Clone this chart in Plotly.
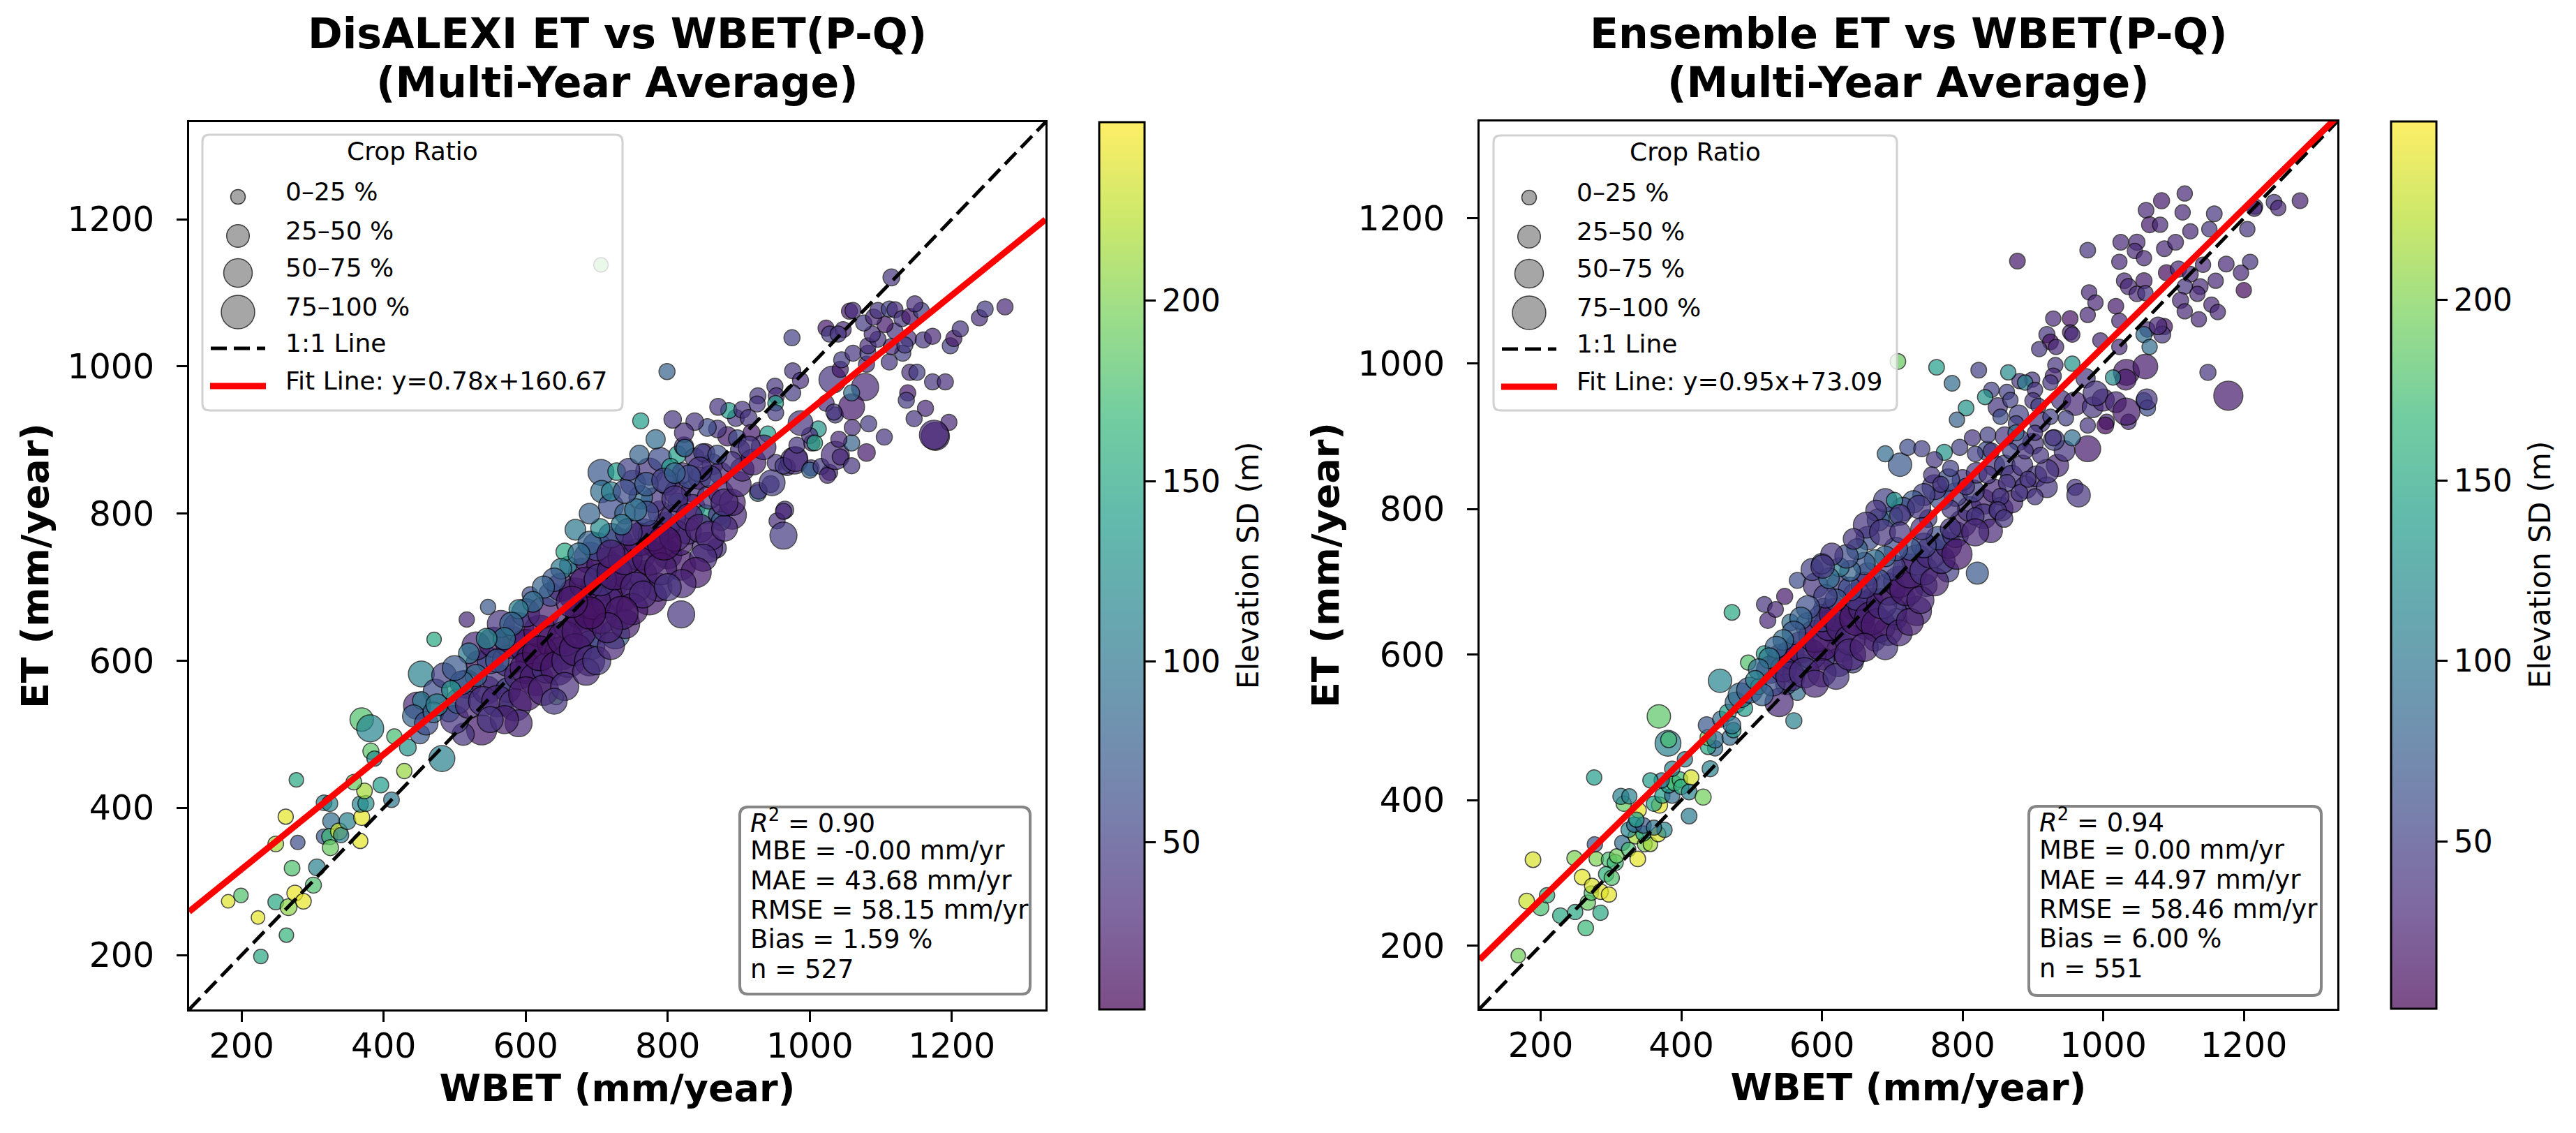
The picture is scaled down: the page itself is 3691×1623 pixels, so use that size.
import math
import plotly.graph_objects as go
import plotly.colors as pc

# ---------------------------------------------------------------- data
# DisALEXI panel: WBET (x), ET (y), elevation SD (colour), crop ratio % (size)
dis_wbet = [
    181, 199, 223, 248, 266, 275, 287, 263, 227, 301,
    306, 271, 248, 279, 262, 277, 316, 324, 326, 316,
    324, 325, 337, 340, 349, 369, 367, 367, 375, 373,
    396, 411, 358, 429, 382, 387, 369, 381, 415, 434,
    482, 453, 473, 447, 453, 471, 517, 547, 606, 643,
    572, 538, 512, 451, 492, 485, 517, 534, 442, 460,
    470, 500, 505, 520, 545, 560, 550, 530, 555, 575,
    580, 565, 590, 600, 610, 620, 600, 625, 640, 650,
    660, 635, 650, 670, 680, 690, 691, 726, 700, 680,
    660, 655, 670, 690, 710, 720, 735, 745, 730, 765,
    774, 786, 760, 786, 800, 818, 818, 829, 798, 767,
    789, 814, 780, 762, 751, 774, 789, 800, 814, 835,
    835, 807, 853, 872, 891, 875, 869, 856, 819, 706,
    728, 707, 720, 740, 745, 760, 783, 814, 823, 804,
    821, 845, 838, 853, 863, 874, 858, 875, 891, 849,
    884, 898, 902, 870, 856, 838, 823, 824, 807, 799,
    762, 896, 886, 871, 905, 914, 918, 927, 926, 927,
    941, 945, 928, 947, 952, 968, 978, 963, 980, 982,
    1002, 1028, 1000, 1016, 1025, 1003, 1012, 1000, 987, 1007,
    1036, 1036, 1043, 1059, 1080, 1059, 1060, 1083, 1105, 1041,
    1177, 965, 954, 963, 963, 951, 953, 952, 952, 976,
    987, 976, 1032, 1078, 1059, 1059, 1043, 1045, 1023, 1034,
    1061, 1080, 1082, 1082, 1112, 1131, 1115, 1096, 1088, 1076,
    1120, 1106, 1139, 1134, 1090, 1096, 1112, 1120, 1130, 1141,
    1157, 1148, 1160, 1173, 1198, 1203, 1212, 1239, 1247, 1275,
    1115, 1056, 1061, 1023, 1028, 1047, 1040, 975, 1141, 1151,
    1173, 1191, 1138, 1136, 1163, 1147, 1196, 1175, 706,
    560, 575, 590, 600, 615, 630, 620, 645, 660, 655,
    670, 675, 690, 705, 715, 695, 685, 705, 725, 740,
    755, 760, 775, 790, 780, 810, 795, 700, 720, 690,
    675, 650, 640, 625, 610, 590, 580, 570, 545, 530,
    510, 520, 495, 475, 500, 540, 560, 585, 600, 625,
    590, 570, 550, 655, 640, 685, 700, 720, 740, 750,
    765, 735, 715, 690, 665, 720, 745, 770, 755, 735,
    705, 690, 720, 740, 770, 795, 810, 830, 845, 860,
    850, 840, 820, 800, 880, 880, 900, 905, 920, 935,
    915, 890, 870, 860, 845, 830, 810,
]
dis_et = [
    273, 281, 251, 272, 265, 284, 273, 227, 198, 295,
    319, 318, 351, 353, 388, 438, 407, 406, 382, 361,
    361, 346, 368, 363, 382, 387, 355, 405, 406, 423,
    431, 411, 435, 450, 477, 467, 520, 508, 497, 482,
    467, 582, 558, 539, 546, 629, 656, 673, 690, 550,
    535, 506, 500, 500, 531, 580, 568, 596, 525, 515,
    530, 520, 545, 540, 560, 575, 600, 620, 625, 600,
    625, 650, 645, 620, 600, 640, 665, 665, 625, 610,
    650, 690, 700, 690, 665, 640, 621, 636, 700, 720,
    730, 748, 778, 740, 730, 705, 690, 720, 760, 717,
    686, 700, 745, 760, 744, 730, 760, 776, 783, 777,
    801, 815, 818, 822, 842, 857, 874, 842, 828, 831,
    809, 794, 799, 798, 798, 790, 753, 754, 663, 856,
    857, 830, 810, 800, 860, 880, 901, 880, 891, 863,
    855, 848, 876, 882, 867, 855, 822, 828, 815, 883,
    905, 902, 887, 915, 917, 925, 910, 889, 928, 993,
    926, 930, 940, 945, 941, 930, 910, 960, 949, 828,
    908, 840, 831, 842, 869, 863, 872, 865, 874, 893,
    862, 856, 859, 864, 852, 896, 915, 906, 923, 896,
    934, 879, 877, 865, 883, 896, 917, 922, 904, 901,
    905, 805, 790, 770, 803, 973, 960, 950, 937, 994,
    981, 964, 982, 972, 945, 964, 996, 1009, 950, 938,
    1018, 1003, 1018, 1028, 1006, 1018, 1027, 1037, 1044, 1059,
    1048, 1057, 1038, 1029, 1067, 1076, 1078, 1077, 1065, 1068,
    1076, 1085, 1036, 1041, 1028, 1038, 1051, 1066, 1078, 1081,
    1121, 1075, 1076, 1052, 1044, 1050, 1044, 1039, 992, 992,
    979, 979, 964, 954, 943, 929, 924, 907, 1138,
    600, 560, 580, 590, 575, 590, 610, 590, 600, 630,
    615, 640, 600, 660, 680, 680, 705, 710, 720, 740,
    700, 765, 740, 725, 770, 770, 760, 755, 770, 760,
    745, 725, 710, 700, 680, 670, 650, 630, 630, 580,
    570, 610, 560, 540, 590, 545, 545, 540, 555, 560,
    515, 520, 520, 565, 545, 585, 600, 620, 650, 670,
    690, 665, 645, 665, 680, 745, 775, 800, 805, 785,
    780, 800, 830, 830, 840, 845, 820, 795, 780, 770,
    740, 720, 705, 700, 780, 815, 840, 860, 870, 890,
    890, 870, 880, 850, 860, 850, 855,
]
dis_elev = [
    238, 180, 240, 150, 205, 243, 240, 165, 150, 178,
    110, 178, 215, 60, 240, 150, 115, 115, 90, 70,
    170, 190, 228, 110, 110, 240, 240, 115, 125, 215,
    140, 100, 190, 210, 185, 120, 180, 115, 175, 130,
    110, 110, 60, 30, 110, 150, 30, 70, 60, 190,
    180, 20, 40, 70, 100, 50, 30, 20, 80, 60,
    90, 40, 70, 30, 20, 40, 60, 30, 25, 35,
    20, 40, 30, 25, 20, 15, 40, 25, 20, 15,
    25, 60, 30, 20, 15, 30, 60, 80, 20, 40,
    110, 150, 100, 30, 20, 25, 15, 20, 30, 25,
    20, 30, 40, 30, 35, 20, 25, 30, 40, 50,
    30, 140, 40, 90, 60, 40, 60, 50, 30, 40,
    30, 40, 140, 40, 30, 80, 40, 30, 40, 70,
    140, 90, 60, 80, 50, 80, 90, 140, 40, 140,
    40, 30, 40, 30, 40, 30, 40, 30, 25, 50,
    20, 60, 40, 40, 60, 40, 35, 90, 40, 80,
    140, 40, 140, 40, 40, 40, 20, 40, 40, 90,
    140, 40, 35, 45, 40, 30, 30, 45, 35, 40,
    40, 35, 80, 45, 30, 40, 130, 35, 40, 150,
    45, 35, 30, 40, 20, 80, 35, 45, 40, 30,
    30, 40, 35, 45, 30, 40, 35, 140, 45, 40,
    35, 45, 40, 30, 20, 90, 20, 45, 35, 40,
    40, 30, 45, 35, 40, 50, 30, 40, 35, 45,
    40, 20, 35, 45, 30, 40, 50, 35, 40, 20,
    45, 35, 40, 30, 50, 20, 40, 35, 45, 30,
    40, 20, 35, 20, 45, 30, 40, 50, 35, 45,
    40, 35, 20, 45, 30, 40, 30, 30, 190,
    70, 50, 30, 20, 25, 40, 15, 20, 30, 20,
    25, 20, 30, 20, 30, 25, 20, 40, 20, 25,
    30, 20, 20, 25, 35, 30, 15, 60, 70, 80,
    90, 100, 70, 80, 90, 110, 80, 100, 120, 90,
    80, 100, 130, 110, 70, 40, 30, 35, 20, 25,
    30, 25, 40, 35, 40, 30, 40, 30, 25, 20,
    30, 20, 25, 15, 20, 25, 40, 60, 90, 100,
    120, 80, 110, 60, 70, 50, 40, 30, 25, 30,
    35, 20, 30, 40, 30, 30, 30, 30, 25, 30,
    40, 40, 60, 50, 40, 60, 80,
]
dis_crop = [
    10, 12, 10, 15, 18, 16, 15, 12, 12, 16,
    18, 15, 15, 12, 14, 12, 15, 16, 18, 14,
    16, 16, 18, 14, 18, 16, 14, 16, 16, 15,
    15, 15, 15, 14, 16, 14, 40, 55, 14, 18,
    50, 50, 45, 55, 20, 12, 14, 14, 15, 12,
    14, 70, 35, 25, 30, 45, 60, 50, 35, 40,
    30, 60, 45, 55, 60, 70, 50, 60, 70, 75,
    80, 55, 70, 85, 90, 80, 60, 75, 90, 85,
    70, 40, 60, 85, 90, 80, 65, 65, 80, 60,
    20, 20, 30, 75, 90, 85, 95, 90, 70, 60,
    95, 60, 80, 75, 60, 70, 45, 50, 55, 40,
    40, 25, 45, 40, 45, 55, 40, 45, 50, 35,
    45, 50, 25, 30, 60, 25, 25, 70, 55, 50,
    20, 35, 45, 30, 35, 25, 25, 20, 25, 20,
    30, 35, 25, 25, 30, 35, 40, 45, 50, 20,
    25, 20, 25, 20, 20, 20, 25, 20, 20, 16,
    16, 18, 16, 18, 18, 18, 18, 16, 16, 18,
    16, 18, 18, 50, 18, 18, 55, 18, 45, 16,
    16, 16, 16, 16, 16, 16, 16, 16, 45, 15,
    16, 60, 16, 16, 20, 16, 16, 16, 16, 16,
    60, 20, 16, 55, 16, 16, 16, 15, 16, 16,
    16, 16, 55, 55, 50, 16, 16, 16, 16, 16,
    16, 16, 16, 16, 16, 16, 16, 16, 16, 16,
    16, 16, 16, 16, 16, 16, 16, 16, 16, 16,
    16, 16, 16, 16, 16, 16, 16, 16, 16, 16,
    18, 16, 16, 16, 16, 16, 16, 16, 16, 16,
    16, 16, 16, 16, 16, 16, 16, 65, 12,
    40, 45, 60, 75, 85, 70, 95, 90, 85, 95,
    80, 90, 70, 90, 75, 95, 85, 80, 95, 90,
    70, 85, 95, 80, 70, 75, 90, 60, 45, 40,
    35, 30, 40, 35, 30, 25, 40, 35, 30, 35,
    40, 30, 25, 35, 45, 65, 75, 80, 90, 70,
    55, 60, 50, 60, 50, 55, 60, 55, 65, 75,
    55, 85, 70, 80, 75, 60, 55, 45, 35, 30,
    25, 30, 25, 40, 40, 45, 50, 55, 60, 65,
    55, 70, 60, 55, 50, 55, 45, 40, 50, 45,
    35, 30, 25, 35, 45, 40, 30,
]

# Ensemble panel
ens_wbet = [
    168, 189, 180, 200, 209, 228, 249, 264, 285, 248,
    259, 267, 272, 273, 285, 297, 277, 279, 297, 306,
    308, 293, 301, 316, 325, 338, 335, 348, 356, 346,
    325, 333, 346, 367, 376, 361, 339, 336, 318, 314,
    326, 276, 369, 361, 373, 387, 382, 390, 398, 400,
    414, 411, 431, 411, 372, 356, 387, 405, 441, 381,
    382, 368, 448, 438, 438, 448, 469, 474, 436, 456,
    466, 472, 455, 472, 560, 565, 477, 490, 484, 497,
    510, 495, 518, 518, 523, 547, 534, 555, 565, 560,
    573, 542, 526, 549, 539, 581, 602, 615, 628, 644,
    623, 602, 662, 675, 694, 706, 735, 748, 779, 821,
    716, 670, 644, 623, 591, 586, 665,
    530, 545, 555, 570, 585, 590, 600, 610, 600, 620,
    630, 640, 650, 660, 650, 670, 680, 685, 695, 700,
    710, 720, 725, 735, 745, 755, 700, 680, 660, 640,
    620, 605, 580, 570, 560, 545, 535, 525, 510, 505,
    515, 555, 575, 600, 590, 620, 640, 660, 690, 710,
    725, 740, 760, 770, 780, 765, 745, 725, 705, 690,
    675, 660, 640, 625, 610, 600, 790, 800, 810, 790,
    770, 760, 745, 730, 715, 700, 680, 665, 650, 635,
    830, 845, 830, 840, 855, 870, 815, 800, 780, 820,
    845, 860, 870, 885, 890, 905, 920, 935, 945, 930,
    900, 880, 860, 835, 850, 880, 910, 940, 960, 985,
    1000, 975,
    1116, 1083, 1061, 1113, 1158, 1066, 1081, 1124, 1151, 1205,
    1243, 1249, 1216, 1280, 1025, 1048, 978, 878, 1045, 1023,
    1058, 1087, 1103, 1090, 1107, 1124, 1142, 1175, 1209, 1196,
    1160, 1138, 1116, 1200, 1030, 1058, 1036, 1048, 980, 989,
    1018, 1060, 1110, 1134, 1154, 1163, 1116, 1136, 1087, 1063,
    1023, 978, 953, 929, 953, 920, 925, 933, 909, 956,
    996, 1023, 1058, 1066, 1084, 1078, 932, 956, 929, 925,
    899, 881, 865, 889, 903, 900, 908, 863, 841, 823,
    785, 763, 708, 805, 832, 868, 792, 854, 876, 925,
    947, 978, 1005, 1036, 1058, 1063, 1033, 1060, 1032, 1014,
    989, 1018, 1033, 1062, 1149, 1178, 1003, 978, 956, 929,
    903, 876, 868, 889, 920, 893, 911, 841, 818, 814,
    836, 774, 796, 760, 783, 756, 711, 690, 722, 742,
    769, 805, 836, 863, 854, 881, 903, 960, 965, 850,
    818, 783, 751, 738, 690, 677, 703, 711, 663, 686,
    711, 742, 783, 818, 859, 645, 614, 601, 792, 1215,
]
ens_et = [
    186, 318, 261, 252, 269, 241, 246, 224, 245, 320,
    294, 259, 272, 282, 274, 270, 339, 319, 318, 314,
    323, 298, 293, 341, 332, 319, 350, 339, 339, 354,
    359, 366, 365, 353, 359, 362, 386, 373, 395, 405,
    405, 431, 393, 395, 406, 406, 420, 423, 428, 418,
    431, 411, 404, 378, 427, 427, 443, 456, 443, 478,
    483, 515, 471, 473, 486, 483, 486, 496, 503, 511,
    520, 503, 564, 658, 509, 548, 534, 526, 544, 551,
    556, 589, 601, 669, 647, 680, 662, 644, 702, 574,
    589, 596, 579, 559, 534, 640, 664, 635, 609, 589,
    589, 594, 635, 619, 632, 649, 660, 695, 715, 712,
    677, 675, 664, 695, 695, 717, 710,
    560, 580, 600, 610, 600, 625, 615, 640, 650, 655,
    640, 620, 650, 665, 680, 650, 640, 670, 690, 660,
    700, 690, 715, 730, 715, 740, 720, 700, 695, 690,
    675, 680, 665, 650, 630, 620, 610, 595, 580, 565,
    545, 570, 575, 575, 560, 570, 600, 610, 610, 630,
    645, 675, 700, 730, 750, 760, 750, 745, 745, 735,
    730, 725, 715, 720, 705, 725, 765, 780, 800, 820,
    815, 830, 820, 810, 800, 790, 785, 760, 745, 735,
    810, 825, 790, 770, 800, 810, 825, 840, 840, 850,
    860, 860, 845, 860, 830, 845, 830, 860, 880, 895,
    890, 895, 900, 880, 940, 930, 920, 950, 945, 940,
    950, 980,
    1234, 1224, 1211, 1208, 1206, 1191, 1191, 1182, 1185, 1185,
    1222, 1214, 1216, 1224, 1167, 1167, 1156, 1141, 1155, 1140,
    1145, 1158, 1167, 1125, 1130, 1123, 1136, 1137, 1140, 1125,
    1114, 1106, 1106, 1101, 1114, 1114, 1106, 1096, 1098, 1084,
    1079, 1097, 1087, 1096, 1081, 1071, 1072, 1061, 1051, 1047,
    1059, 1067, 1062, 1062, 1043, 1040, 1030, 1023, 1020, 1040,
    1032, 1023, 1040, 1023, 1040, 1052, 998, 1000, 983, 974,
    978, 976, 988, 974, 964, 949, 942, 961, 964, 991,
    973, 995, 1003, 939, 954, 950, 923, 927, 918, 927,
    925, 915, 920, 920, 949, 939, 988, 996, 978, 981,
    959, 947, 934, 951, 988, 956, 915, 883, 898, 898,
    905, 905, 880, 880, 852, 841, 874, 880, 876, 898,
    902, 878, 885, 868, 856, 847, 861, 876, 885, 883,
    834, 831, 847, 836, 817, 822, 817, 830, 819, 798,
    790, 800, 787, 803, 812, 798, 812, 792, 778, 768,
    768, 773, 773, 768, 787, 759, 738, 721, 738, 1213,
]
ens_elev = [
    195, 235, 230, 175, 160, 150, 150, 170, 150, 200,
    240, 190, 180, 235, 238, 240, 70, 200, 175, 170,
    195, 160, 180, 90, 175, 240, 215, 200, 215, 140,
    115, 90, 70, 235, 115, 95, 240, 140, 190, 110,
    110, 140, 240, 145, 140, 90, 140, 175, 170, 160,
    235, 110, 195, 105, 95, 140, 110, 110, 110, 110,
    175, 185, 90, 150, 190, 90, 90, 140, 70, 90,
    140, 90, 115, 150, 110, 90, 90, 140, 90, 70,
    140, 180, 140, 40, 30, 20, 30, 90, 60, 30,
    140, 30, 40, 60, 30, 80, 60, 80, 30, 50,
    30, 50, 50, 40, 30, 50, 30, 50, 50, 70,
    40, 50, 40, 50, 40, 50, 60,
    60, 40, 30, 20, 40, 25, 20, 30, 50, 20,
    25, 30, 20, 30, 40, 25, 20, 30, 20, 40,
    30, 20, 25, 30, 40, 30, 50, 60, 40, 60,
    70, 50, 60, 80, 70, 90, 80, 100, 90, 110,
    80, 30, 35, 25, 30, 40, 30, 25, 40, 30,
    25, 30, 25, 40, 30, 60, 50, 70, 60, 80,
    90, 70, 80, 100, 90, 70, 40, 30, 40, 50,
    60, 40, 50, 70, 60, 90, 70, 60, 80, 60,
    30, 30, 40, 30, 40, 30, 50, 40, 60, 40,
    40, 50, 40, 40, 40, 40, 40, 30, 40, 50,
    40, 50, 40, 60, 40, 50, 40, 40, 30, 40,
    30, 40,
    30, 20, 30, 30, 40, 20, 30, 30, 40, 40,
    40, 30, 40, 25, 30, 30, 40, 20, 30, 30,
    30, 30, 30, 10, 30, 30, 30, 30, 40, 30,
    30, 30, 40, 10, 30, 20, 30, 30, 30, 30,
    20, 40, 30, 30, 30, 30, 30, 30, 15, 30,
    30, 30, 15, 30, 30, 40, 15, 30, 40, 30,
    30, 30, 90, 90, 40, 30, 40, 130, 30, 40,
    40, 40, 120, 110, 40, 40, 50, 50, 50, 50,
    90, 140, 190, 130, 130, 50, 80, 60, 50, 50,
    50, 40, 30, 30, 80, 60, 20, 20, 20, 120,
    40, 30, 20, 40, 40, 20, 10, 20, 90, 40,
    40, 90, 50, 40, 40, 40, 40, 40, 50, 40,
    50, 130, 50, 40, 50, 40, 70, 90, 60, 50,
    40, 40, 40, 40, 40, 40, 40, 40, 40, 40,
    40, 40, 50, 40, 50, 40, 130, 40, 40, 40,
    40, 40, 40, 30, 40, 40, 40, 40, 20, 30,
]
ens_crop = [
    12, 15, 15, 16, 14, 15, 14, 15, 14, 14,
    15, 14, 12, 14, 15, 14, 14, 12, 14, 16,
    12, 14, 14, 14, 12, 15, 14, 13, 12, 14,
    14, 14, 15, 14, 14, 14, 15, 14, 14, 16,
    14, 14, 16, 14, 14, 14, 14, 14, 15, 14,
    14, 15, 16, 15, 14, 14, 14, 14, 16, 50,
    16, 40, 14, 14, 16, 18, 15, 14, 18, 16,
    18, 20, 40, 15, 16, 16, 30, 16, 45, 50,
    16, 14, 16, 15, 16, 16, 15, 18, 16, 30,
    16, 55, 55, 30, 60, 50, 25, 55, 60, 30,
    60, 35, 30, 30, 60, 30, 65, 35, 35, 35,
    40, 40, 40, 40, 45, 35, 40,
    45, 50, 60, 75, 65, 80, 90, 70, 55, 85,
    90, 70, 95, 75, 60, 85, 90, 70, 80, 60,
    75, 85, 90, 70, 60, 75, 50, 45, 50, 40,
    35, 40, 40, 35, 40, 30, 35, 30, 30, 25,
    35, 65, 70, 60, 55, 50, 75, 60, 45, 50,
    55, 55, 60, 55, 50, 40, 45, 35, 40, 30,
    30, 35, 30, 25, 30, 30, 50, 55, 45, 40,
    40, 45, 35, 35, 40, 30, 35, 40, 30, 40,
    45, 40, 45, 40, 40, 35, 35, 30, 35, 30,
    30, 30, 35, 30, 35, 30, 30, 35, 30, 30,
    30, 30, 25, 25, 25, 25, 30, 25, 40, 30,
    35, 25,
    14, 16, 15, 14, 15, 16, 14, 14, 14, 14,
    15, 14, 14, 15, 15, 16, 15, 15, 14, 14,
    14, 15, 15, 16, 16, 15, 14, 15, 14, 14,
    14, 15, 14, 14, 15, 16, 16, 15, 14, 14,
    15, 14, 16, 14, 14, 14, 14, 14, 16, 14,
    14, 14, 15, 14, 14, 16, 15, 14, 14, 14,
    14, 14, 16, 14, 18, 20, 14, 14, 16, 14,
    14, 14, 14, 14, 14, 16, 14, 14, 14, 15,
    15, 15, 15, 15, 14, 14, 14, 14, 14, 14,
    14, 14, 14, 14, 16, 16, 50, 45, 30, 14,
    45, 30, 55, 30, 16, 65, 18, 50, 16, 16,
    14, 16, 15, 16, 40, 16, 16, 16, 15, 16,
    15, 16, 16, 16, 16, 16, 40, 16, 16, 16,
    16, 18, 20, 18, 18, 18, 16, 16, 40, 20,
    20, 20, 20, 40, 40, 30, 16, 30, 50, 50,
    30, 35, 30, 55, 20, 30, 35, 40, 70, 14,
]

for name, arrs in (("dis", (dis_wbet, dis_et, dis_elev, dis_crop)),
                   ("ens", (ens_wbet, ens_et, ens_elev, ens_crop))):
    lens = [len(a) for a in arrs]
    assert len(set(lens)) == 1, (name, lens)

# fit lines, axis limits and statistics
dis_fit = (0.78, 160.67)
ens_fit = (0.95, 73.09)
dis_limits = [126, 1332]
ens_limits = [113, 1333]
tick_values = [200, 400, 600, 800, 1000, 1200]
elev_range = [3.6, 249.5]
elev_ticks = [50, 100, 150, 200]
crop_labels = ["0–25 %", "25–50 %", "50–75 %", "75–100 %"]
crop_mid = [12.5, 37.5, 62.5, 87.5]
dis_stats = ["<i>R</i><sup>2</sup> = 0.90", "MBE = -0.00 mm/yr", "MAE = 43.68 mm/yr",
             "RMSE = 58.15 mm/yr", "Bias = 1.59 %", "n = 527"]
ens_stats = ["<i>R</i><sup>2</sup> = 0.94", "MBE = 0.00 mm/yr", "MAE = 44.97 mm/yr",
             "RMSE = 58.46 mm/yr", "Bias = 6.00 %", "n = 551"]
titles = {"dis": ("DisALEXI ET vs WBET(P-Q)", "(Multi-Year Average)"),
          "ens": ("Ensemble ET vs WBET(P-Q)", "(Multi-Year Average)")}
cbar_title = "Elevation SD (m)"

# ---------------------------------------------------------------- layout helpers
W, H = 3691, 1623
FONT = "DejaVu Sans"


def fx(p):
    return p / W


def fy(p):
    return 1 - p / H


def diam(c):
    return math.sqrt(131 + 24.8 * c)


faded = []
vir = pc.sequential.Viridis
for i, h in enumerate(vir):
    r, g, b = pc.hex_to_rgb(h)
    faded.append([i / (len(vir) - 1),
                  "rgb(%d,%d,%d)" % (round(0.7 * r + 76.5), round(0.7 * g + 76.5), round(0.7 * b + 76.5))])

GEOM = {
    "dis": dict(l=263, r=1490, t=167, b=1438, cb=1567, leg=(282, 185, 884, 580),
                stat=(1052, 1148, 1468, 1416)),
    "ens": dict(l=2112, r=3341, t=166, b=1437, cb=3418, leg=(2132, 186, 2710, 580),
                stat=(2899, 1147, 3318, 1418)),
}

fig = go.Figure()
shapes = []
annotations = []


def rounded(l, t, r, b, rad, fill, line, lw):
    L, R, T, B = fx(l), fx(r), fy(t), fy(b)
    rx, ry = rad / W, rad / H
    path = (f"M {L+rx},{T} L {R-rx},{T} Q {R},{T} {R},{T-ry} L {R},{B+ry} Q {R},{B} {R-rx},{B} "
            f"L {L+rx},{B} Q {L},{B} {L},{B+ry} L {L},{T-ry} Q {L},{T} {L+rx},{T} Z")
    return dict(type="path", path=path, xref="paper", yref="paper", fillcolor=fill,
                line=dict(color=line, width=lw), layer="above")


def text(x, y, s, size, anchor="left", angle=0):
    # y is the wanted visual centre of the glyphs; shift for plotly's text box
    if angle == 0:
        y = y - 0.2 * size
    else:
        x = x - 0.2 * size
    annotations.append(dict(x=fx(x), y=fy(y), xref="paper", yref="paper", text=s, showarrow=False,
                            xanchor=anchor, yanchor="middle", textangle=angle,
                            font=dict(family=FONT, size=size, color="black")))


panels = [("dis", dis_wbet, dis_et, dis_elev, dis_crop, dis_fit, dis_limits, dis_stats, "", ""),
          ("ens", ens_wbet, ens_et, ens_elev, ens_crop, ens_fit, ens_limits, ens_stats, "2", "2")]

for key, xs, ys, es, cs, fit, lim, stats, xa, ya in panels:
    g = GEOM[key]
    xref, yref = "x" + xa, "y" + ya
    fig.add_trace(go.Scatter(
        x=xs, y=ys, mode="markers", xaxis=xref, yaxis=yref, showlegend=False, hoverinfo="skip",
        marker=dict(size=[diam(c) for c in cs], color=es, colorscale="Viridis",
                    cmin=elev_range[0], cmax=elev_range[1], opacity=0.7,
                    line=dict(color="black", width=1.5))))
    fig.add_trace(go.Scatter(x=lim, y=lim, mode="lines", xaxis=xref, yaxis=yref, showlegend=False,
                             hoverinfo="skip", line=dict(color="black", width=5, dash="23px,10px")))
    fig.add_trace(go.Scatter(x=lim, y=[fit[0] * v + fit[1] for v in lim], mode="lines",
                             xaxis=xref, yaxis=yref, showlegend=False, hoverinfo="skip",
                             line=dict(color="red", width=9)))
    # colour bar (faded like alpha 0.7)
    fig.add_trace(go.Scatter(
        x=[None], y=[None], mode="markers", xaxis=xref, yaxis=yref, showlegend=False, hoverinfo="skip",
        marker=dict(color=elev_range, colorscale=faded, cmin=elev_range[0], cmax=elev_range[1],
                    showscale=True,
                    colorbar=dict(x=fx(g["cb"]), xanchor="left", y=fy(g["b"]), yanchor="bottom",
                                  len=(g["b"] - g["t"]) / H, lenmode="fraction", thickness=65,
                                  thicknessmode="pixels", xpad=0, ypad=0, outlinewidth=3,
                                  outlinecolor="black", tickvals=elev_ticks, ticks="outside",
                                  ticklen=15, tickwidth=3, tickcolor="black",
                                  tickfont=dict(family=FONT, size=44, color="black")))))
    text(g["cb"] + 222, (g["t"] + g["b"]) / 2, cbar_title, 42, "center", angle=-90)

    axis_common = dict(range=lim, tickvals=tick_values, ticks="outside", ticklen=15, tickwidth=3,
                       tickcolor="black", showline=True, linewidth=3, linecolor="black", mirror=True,
                       showgrid=False, zeroline=False,
                       tickfont=dict(family=FONT, size=49, color="black"))
    fig.update_layout(**{
        "xaxis" + xa: dict(axis_common, domain=[fx(g["l"]), fx(g["r"])], anchor=yref,
                           ticklabelstandoff=-8,
                           title=dict(text="<b>WBET (mm/year)</b>", standoff=13,
                                      font=dict(family=FONT, size=54, color="black"))),
        "yaxis" + ya: dict(axis_common, domain=[fy(g["b"]), fy(g["t"])], anchor=xref,
                           ticklabelstandoff=22,
                           title=dict(text="<b>ET (mm/year)</b>", standoff=10,
                                      font=dict(family=FONT, size=54, color="black"))),
    })

    # titles
    cx = (g["l"] + g["r"]) / 2
    text(cx, 52, "<b>%s</b>" % titles[key][0], 60, "center")
    text(cx, 122, "<b>%s</b>" % titles[key][1], 60, "center")

    # legend
    l, t, r, b = g["leg"]
    shapes.append(rounded(l, t, r, b, 10, "rgba(255,255,255,0.8)", "rgba(204,204,204,0.9)", 3))
    text((l + r) / 2, t + 31, "Crop Ratio", 36, "center")
    rows = [89, 145, 198, 254, 306, 360]
    for lab, cm, dy in zip(crop_labels, crop_mid, rows[:4]):
        d = diam(cm)
        cxl, cyl = l + 51, t + dy
        shapes.append(dict(type="circle", xref="paper", yref="paper",
                           x0=fx(cxl - d / 2), x1=fx(cxl + d / 2), y0=fy(cyl + d / 2), y1=fy(cyl - d / 2),
                           fillcolor="rgba(128,128,128,0.7)", line=dict(color="rgba(0,0,0,0.7)", width=1.5),
                           layer="above"))
        text(l + 117, cyl, lab, 36)
    shapes.append(dict(type="line", xref="paper", yref="paper", x0=fx(l + 12), x1=fx(l + 90),
                       y0=fy(t + rows[4]), y1=fy(t + rows[4]),
                       line=dict(color="black", width=5, dash="23px,10px"), layer="above"))
    text(l + 117, t + rows[4], "1:1 Line", 36)
    shapes.append(dict(type="line", xref="paper", yref="paper", x0=fx(l + 11), x1=fx(l + 91),
                       y0=fy(t + rows[5]), y1=fy(t + rows[5]),
                       line=dict(color="red", width=9), layer="above"))
    text(l + 117, t + rows[5], "Fit Line: y=%.2fx+%.2f" % fit, 36)

    # statistics box
    l, t, r, b = g["stat"]
    shapes.append(rounded(l, t, r, b, 12, "rgba(255,255,255,0.85)", "rgba(128,128,128,0.95)", 4))
    for i, s in enumerate(stats):
        text(l + 13, t + 28 + 42.3 * i, s, 37)

fig.update_layout(width=W, height=H, margin=dict(l=0, r=0, t=0, b=0), paper_bgcolor="white",
                  plot_bgcolor="white", showlegend=False, shapes=shapes, annotations=annotations,
                  font=dict(family=FONT, color="black"))

fig.write_html("out.html")
